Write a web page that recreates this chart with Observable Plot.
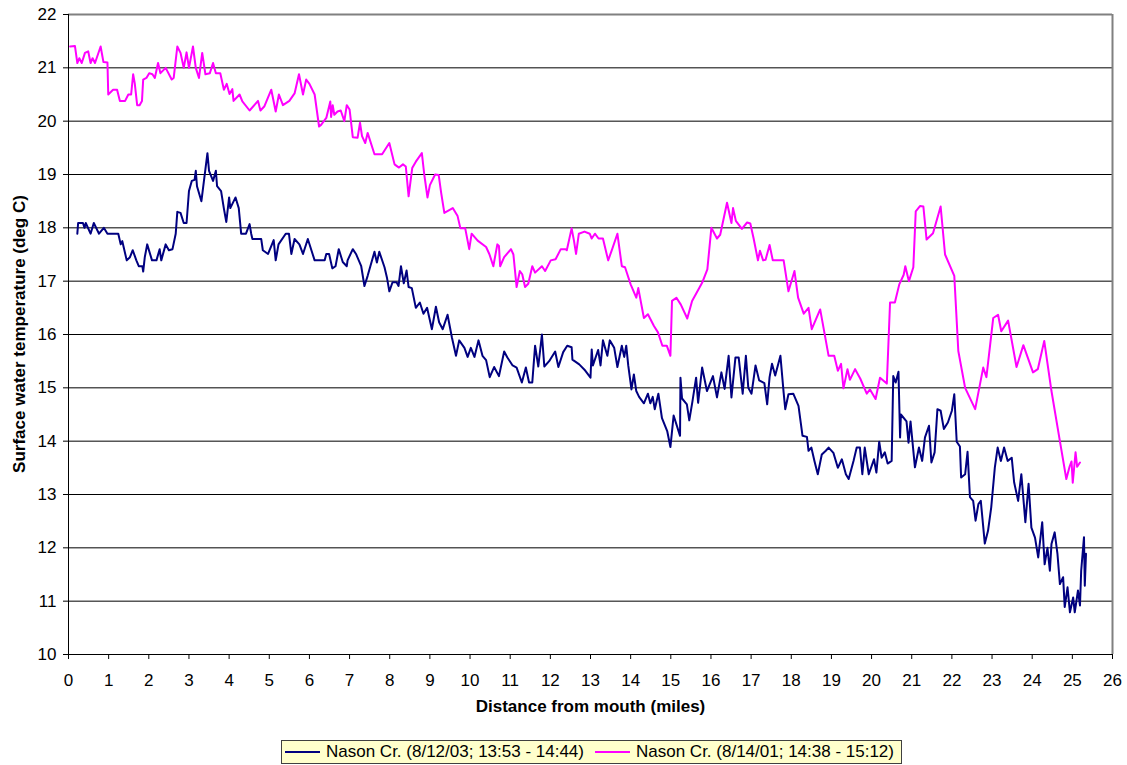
<!DOCTYPE html>
<html>
<head>
<meta charset="utf-8">
<script src="https://cdn.jsdelivr.net/npm/d3@7"></script>
<script src="https://cdn.jsdelivr.net/npm/@observablehq/plot@0.6"></script>
<style>
  body { margin: 0; background: #fff; font-family: "Liberation Sans", Arial, sans-serif; }
  #chart { position: absolute; left: 0; top: 0; }
  #ylabel {
    position: absolute; left: 19px; top: 334px; transform: translate(-50%, -50%) rotate(-90deg);
    font-weight: bold; font-size: 17px; white-space: nowrap; color: #000; line-height: 1;
  }
  #legend {
    position: absolute; left: 281px; top: 740px; width: 616px; height: 22px;
    border: 1px solid #404040; background: #FFFFCC; display: flex; align-items: center;
    font-size: 17px; color: #000; padding-left: 3px; box-sizing: content-box; white-space: nowrap;
  }
  #legend .item { display: flex; align-items: center; margin-right: 11px; }
  #legend .swatch { display: inline-block; width: 35px; height: 2px; margin-right: 6px; }
</style>
</head>
<body>
<div id="chart"></div>
<div id="ylabel"></div>
<div id="legend"></div>
<script>
// ---- Data ----
const seriesNames = ["Nason Cr. (8/12/03; 13:53 - 14:44)", "Nason Cr. (8/14/01; 14:38 - 15:12)"];
const seriesColors = ["#000080", "#FF00FF"];
const xTicks = [0,1,2,3,4,5,6,7,8,9,10,11,12,13,14,15,16,17,18,19,20,21,22,23,24,25,26];
const yTicks = [10,11,12,13,14,15,16,17,18,19,20,21,22];
const xLabel = "Distance from mouth (miles)";
const yLabel = "Surface water temperature (deg C)";

// Nason Cr. 8/12/03 (navy)
const navyDist = [
  0.22,0.24,0.36,0.40,0.43,0.55,0.63,0.76,0.88,0.97,
  1.24,1.30,1.34,1.45,1.53,1.60,1.69,1.75,1.84,1.86,
  1.90,1.96,2.08,2.19,2.27,2.31,2.42,2.50,2.59,2.67,
  2.71,2.79,2.87,2.94,3.00,3.07,3.14,3.17,3.20,3.31,
  3.46,3.50,3.60,3.67,3.70,3.80,3.87,3.93,4.00,4.03,
  4.16,4.24,4.30,4.42,4.51,4.55,4.58,4.80,4.84,4.97,
  5.11,5.16,5.23,5.41,5.49,5.55,5.63,5.75,5.84,5.96,
  6.13,6.38,6.42,6.49,6.57,6.65,6.73,6.83,6.93,6.95,
  7.08,7.16,7.29,7.37,7.45,7.62,7.68,7.74,7.87,7.93,
  7.99,8.07,8.17,8.22,8.28,8.35,8.42,8.47,8.55,8.65,
  8.75,8.84,8.93,9.05,9.15,9.23,9.32,9.44,9.55,9.65,
  9.73,9.86,9.94,10.02,10.11,10.21,10.31,10.40,10.49,10.60,
  10.72,10.85,10.93,11.06,11.16,11.29,11.39,11.47,11.55,11.62,
  11.70,11.79,11.85,11.97,12.12,12.20,12.32,12.42,12.53,12.55,
  12.72,12.85,13.00,13.03,13.06,13.19,13.25,13.31,13.42,13.48,
  13.59,13.67,13.78,13.84,13.89,13.94,14.02,14.08,14.14,14.21,
  14.33,14.43,14.49,14.55,14.60,14.69,14.78,14.85,14.91,14.99,
  15.07,15.23,15.24,15.28,15.40,15.46,15.54,15.63,15.68,15.78,
  15.90,16.05,16.15,16.26,16.34,16.44,16.51,16.61,16.69,16.79,
  16.87,16.93,17.01,17.11,17.20,17.33,17.40,17.46,17.52,17.60,
  17.73,17.81,17.85,17.93,18.05,18.18,18.28,18.39,18.43,18.50,
  18.58,18.66,18.76,18.86,18.93,19.05,19.16,19.26,19.36,19.43,
  19.55,19.63,19.71,19.77,19.83,19.93,20.06,20.12,20.19,20.25,
  20.33,20.40,20.50,20.54,20.60,20.67,20.71,20.73,20.87,20.92,
  20.97,21.08,21.18,21.26,21.33,21.43,21.49,21.57,21.64,21.72,
  21.80,21.90,22.00,22.06,22.12,22.20,22.23,22.33,22.39,22.45,
  22.53,22.59,22.66,22.72,22.82,22.90,22.98,23.07,23.14,23.22,
  23.30,23.39,23.49,23.55,23.65,23.73,23.83,23.91,23.98,24.07,
  24.15,24.25,24.31,24.38,24.44,24.48,24.56,24.63,24.69,24.77,
  24.81,24.88,24.94,25.02,25.06,25.14,25.19,25.22,25.29,25.31,
  25.34
];
const navyTemp = [
  17.89,18.09,18.09,18.00,18.09,17.89,18.09,17.89,18.00,17.89,
  17.89,17.69,17.75,17.39,17.45,17.58,17.39,17.28,17.28,17.18,
  17.45,17.69,17.39,17.39,17.60,17.39,17.69,17.58,17.60,17.89,
  18.30,18.28,18.09,18.09,18.69,18.88,18.90,19.07,18.78,18.50,
  19.40,19.07,18.88,19.07,18.78,18.69,18.36,18.11,18.57,18.37,
  18.57,18.37,17.89,17.89,18.07,17.89,17.79,17.79,17.58,17.51,
  17.77,17.39,17.69,17.89,17.89,17.51,17.79,17.69,17.51,17.79,
  17.39,17.39,17.51,17.51,17.24,17.28,17.60,17.36,17.28,17.39,
  17.60,17.51,17.28,16.91,17.10,17.55,17.35,17.55,17.26,17.07,
  16.81,16.98,16.98,16.91,17.28,16.96,17.20,16.89,16.87,16.50,
  16.60,16.39,16.50,16.10,16.52,16.23,16.10,16.37,15.94,15.60,
  15.89,15.75,15.58,15.75,15.58,15.89,15.60,15.52,15.20,15.39,
  15.22,15.68,15.57,15.42,15.38,15.10,15.38,15.10,15.10,15.79,
  15.40,16.00,15.40,15.50,15.68,15.39,15.67,15.79,15.76,15.53,
  15.44,15.34,15.19,15.72,15.42,15.71,15.42,15.89,15.60,15.89,
  15.75,15.39,15.79,15.58,15.79,15.42,14.97,15.25,14.94,14.83,
  14.71,14.89,14.71,14.83,14.60,14.89,14.43,14.30,14.19,13.89,
  14.48,14.10,15.19,14.80,14.69,14.39,14.75,15.19,14.72,15.38,
  14.94,15.22,14.82,15.29,14.98,15.60,14.82,15.57,15.57,14.89,
  15.60,15.00,14.89,15.42,15.14,15.09,14.69,15.20,15.45,15.23,
  15.60,14.91,14.60,14.88,14.89,14.66,14.10,14.08,13.82,13.88,
  13.62,13.38,13.75,13.82,13.88,13.78,13.50,13.66,13.38,13.29,
  13.63,13.88,13.88,13.38,13.88,13.38,13.66,13.41,13.99,13.69,
  13.79,13.58,13.63,15.22,15.10,15.30,14.07,14.50,14.37,13.97,
  14.37,13.51,13.88,13.63,14.07,14.29,13.60,13.79,14.60,14.57,
  14.23,14.35,14.57,14.88,13.99,13.90,13.32,13.38,13.80,12.95,
  12.88,12.51,12.82,12.88,12.08,12.32,12.76,13.51,13.88,13.63,
  13.88,13.63,13.69,13.23,12.88,13.38,12.48,13.20,12.38,12.19,
  11.82,12.48,11.69,12.00,11.57,12.07,12.29,11.88,11.32,11.45,
  10.89,11.26,10.79,11.07,10.79,11.20,10.92,11.57,12.20,11.29,
  11.89
];

// Nason Cr. 8/14/01 (magenta)
const magentaDist = [
  0.04,0.16,0.22,0.27,0.33,0.41,0.49,0.55,0.60,0.66,
  0.80,0.87,0.97,0.99,1.11,1.21,1.28,1.41,1.49,1.56,
  1.61,1.65,1.71,1.77,1.83,1.86,1.94,2.01,2.09,2.15,
  2.23,2.29,2.42,2.57,2.62,2.71,2.79,2.87,2.94,3.00,
  3.10,3.17,3.25,3.33,3.41,3.52,3.60,3.67,3.78,3.87,
  3.94,4.01,4.08,4.11,4.26,4.33,4.51,4.72,4.78,4.88,
  5.05,5.16,5.24,5.34,5.50,5.63,5.74,5.84,5.92,6.00,
  6.13,6.24,6.29,6.42,6.52,6.54,6.58,6.62,6.70,6.78,
  6.87,6.93,7.00,7.08,7.20,7.26,7.31,7.39,7.45,7.62,
  7.81,7.99,8.12,8.23,8.33,8.40,8.47,8.56,8.65,8.80,
  8.86,8.94,9.00,9.13,9.22,9.28,9.36,9.57,9.69,9.76,
  9.88,9.98,10.04,10.19,10.40,10.48,10.58,10.68,10.72,10.75,
  10.85,11.02,11.08,11.16,11.24,11.30,11.37,11.45,11.55,11.62,
  11.79,11.87,12.01,12.13,12.26,12.38,12.41,12.53,12.59,12.64,
  12.71,12.85,12.98,13.03,13.11,13.20,13.31,13.44,13.54,13.67,
  13.78,13.86,14.00,14.14,14.19,14.33,14.43,14.58,14.68,14.79,
  14.90,14.99,15.03,15.14,15.25,15.41,15.53,15.78,15.91,16.01,
  16.15,16.23,16.40,16.51,16.55,16.62,16.77,16.90,16.98,17.06,
  17.17,17.22,17.30,17.36,17.46,17.54,17.81,17.93,18.08,18.17,
  18.31,18.43,18.51,18.72,18.93,19.07,19.16,19.24,19.30,19.40,
  19.46,19.59,19.72,19.88,19.96,20.10,20.21,20.38,20.46,20.58,
  20.69,20.80,20.84,20.93,21.04,21.10,21.21,21.29,21.37,21.53,
  21.72,21.83,22.06,22.16,22.33,22.58,22.78,22.86,23.03,23.15,
  23.23,23.40,23.61,23.78,24.02,24.14,24.30,24.48,24.69,24.85,
  24.93,24.98,25.01,25.08,25.12,25.19
];
const magentaTemp = [
  21.40,21.41,21.09,21.18,21.09,21.28,21.31,21.09,21.18,21.09,
  21.40,21.11,21.10,20.50,20.59,20.59,20.38,20.38,20.50,20.50,
  20.88,20.71,20.30,20.30,20.38,20.78,20.81,20.90,20.88,20.81,
  21.09,20.90,21.00,20.78,20.81,21.40,21.28,21.00,21.29,21.00,
  21.40,21.00,20.81,21.28,20.88,20.90,21.09,20.90,20.90,20.59,
  20.70,20.51,20.60,20.38,20.50,20.37,20.20,20.38,20.20,20.28,
  20.59,20.18,20.50,20.30,20.38,20.52,20.88,20.50,20.78,20.70,
  20.50,19.90,19.93,20.06,20.37,20.08,20.30,20.12,20.18,20.20,
  20.00,20.30,20.22,19.70,19.69,19.97,19.72,19.59,19.78,19.38,
  19.38,19.59,19.19,19.13,19.19,19.15,18.59,19.12,19.24,19.40,
  19.00,18.57,18.80,19.00,18.99,18.66,18.28,18.37,18.22,17.99,
  17.99,17.60,17.89,17.76,17.64,17.51,17.28,17.69,17.66,17.28,
  17.45,17.60,17.50,16.89,17.19,17.13,16.89,16.95,17.28,17.16,
  17.28,17.19,17.39,17.41,17.60,17.60,17.58,17.99,17.75,17.51,
  17.89,17.93,17.89,17.80,17.89,17.80,17.80,17.39,17.60,17.89,
  17.28,17.26,16.94,16.69,16.87,16.31,16.38,16.16,16.04,15.79,
  15.79,15.60,16.63,16.69,16.56,16.30,16.63,16.97,17.22,18.00,
  17.80,17.87,18.47,18.09,18.37,18.13,17.98,18.10,18.08,17.81,
  17.39,17.57,17.39,17.40,17.68,17.39,17.39,16.81,17.19,16.69,
  16.39,16.50,16.10,16.47,15.60,15.60,15.32,15.45,14.99,15.35,
  15.15,15.35,15.17,14.89,14.97,14.79,15.19,15.08,16.60,16.60,
  16.94,17.12,17.28,17.00,17.26,18.31,18.41,18.40,17.78,17.90,
  18.40,17.50,17.10,15.69,15.00,14.60,15.38,15.20,16.31,16.37,
  16.06,16.26,15.39,15.80,15.29,15.35,15.88,14.94,14.00,13.29,
  13.52,13.62,13.22,13.79,13.52,13.60
];

const navyData = navyDist.map((d, i) => ({d, t: navyTemp[i]}));
const magentaData = magentaDist.map((d, i) => ({d, t: magentaTemp[i]}));

const chart = Plot.plot({
  width: 1127,
  height: 725,
  marginLeft: 68,
  marginRight: 15,
  marginTop: 14,
  marginBottom: 71,
  style: {fontFamily: '"Liberation Sans", Arial, sans-serif', fontSize: "17px", color: "#000", background: "#fff", overflow: "visible"},
  x: {domain: [0, 26]},
  y: {domain: [10, 22]},
  marks: [
    Plot.ruleY(yTicks.filter(v => v > 10 && v < 22), {stroke: "#000", strokeWidth: 1}),
    Plot.ruleY([22], {stroke: "#808080", strokeWidth: 2}),
    Plot.ruleX([26], {stroke: "#808080", strokeWidth: 2}),
    Plot.line(navyData, {x: "d", y: "t", stroke: seriesColors[0], strokeWidth: 2}),
    Plot.line(magentaData, {x: "d", y: "t", stroke: seriesColors[1], strokeWidth: 2}),
    Plot.ruleX([0], {stroke: "#000", strokeWidth: 1}),
    Plot.ruleY([10], {stroke: "#000", strokeWidth: 1}),
    Plot.axisX({ticks: xTicks, tickSize: 5, tickPadding: 14, label: null, tickFormat: d => String(d)}),
    Plot.axisY({ticks: yTicks, tickSize: 5, tickPadding: 7, label: null, tickFormat: d => String(d)}),
    Plot.text([xLabel], {text: d => d, frameAnchor: "bottom", dy: 57, fontWeight: "bold", fontSize: 17})
  ]
});
document.getElementById("chart").appendChild(chart);
document.getElementById("ylabel").textContent = yLabel;

const legend = document.getElementById("legend");
seriesNames.forEach((name, i) => {
  const item = document.createElement("div");
  item.className = "item";
  const sw = document.createElement("span");
  sw.className = "swatch";
  sw.style.background = seriesColors[i];
  const label = document.createElement("span");
  label.textContent = name;
  item.appendChild(sw);
  item.appendChild(label);
  legend.appendChild(item);
});
</script>
</body>
</html>
